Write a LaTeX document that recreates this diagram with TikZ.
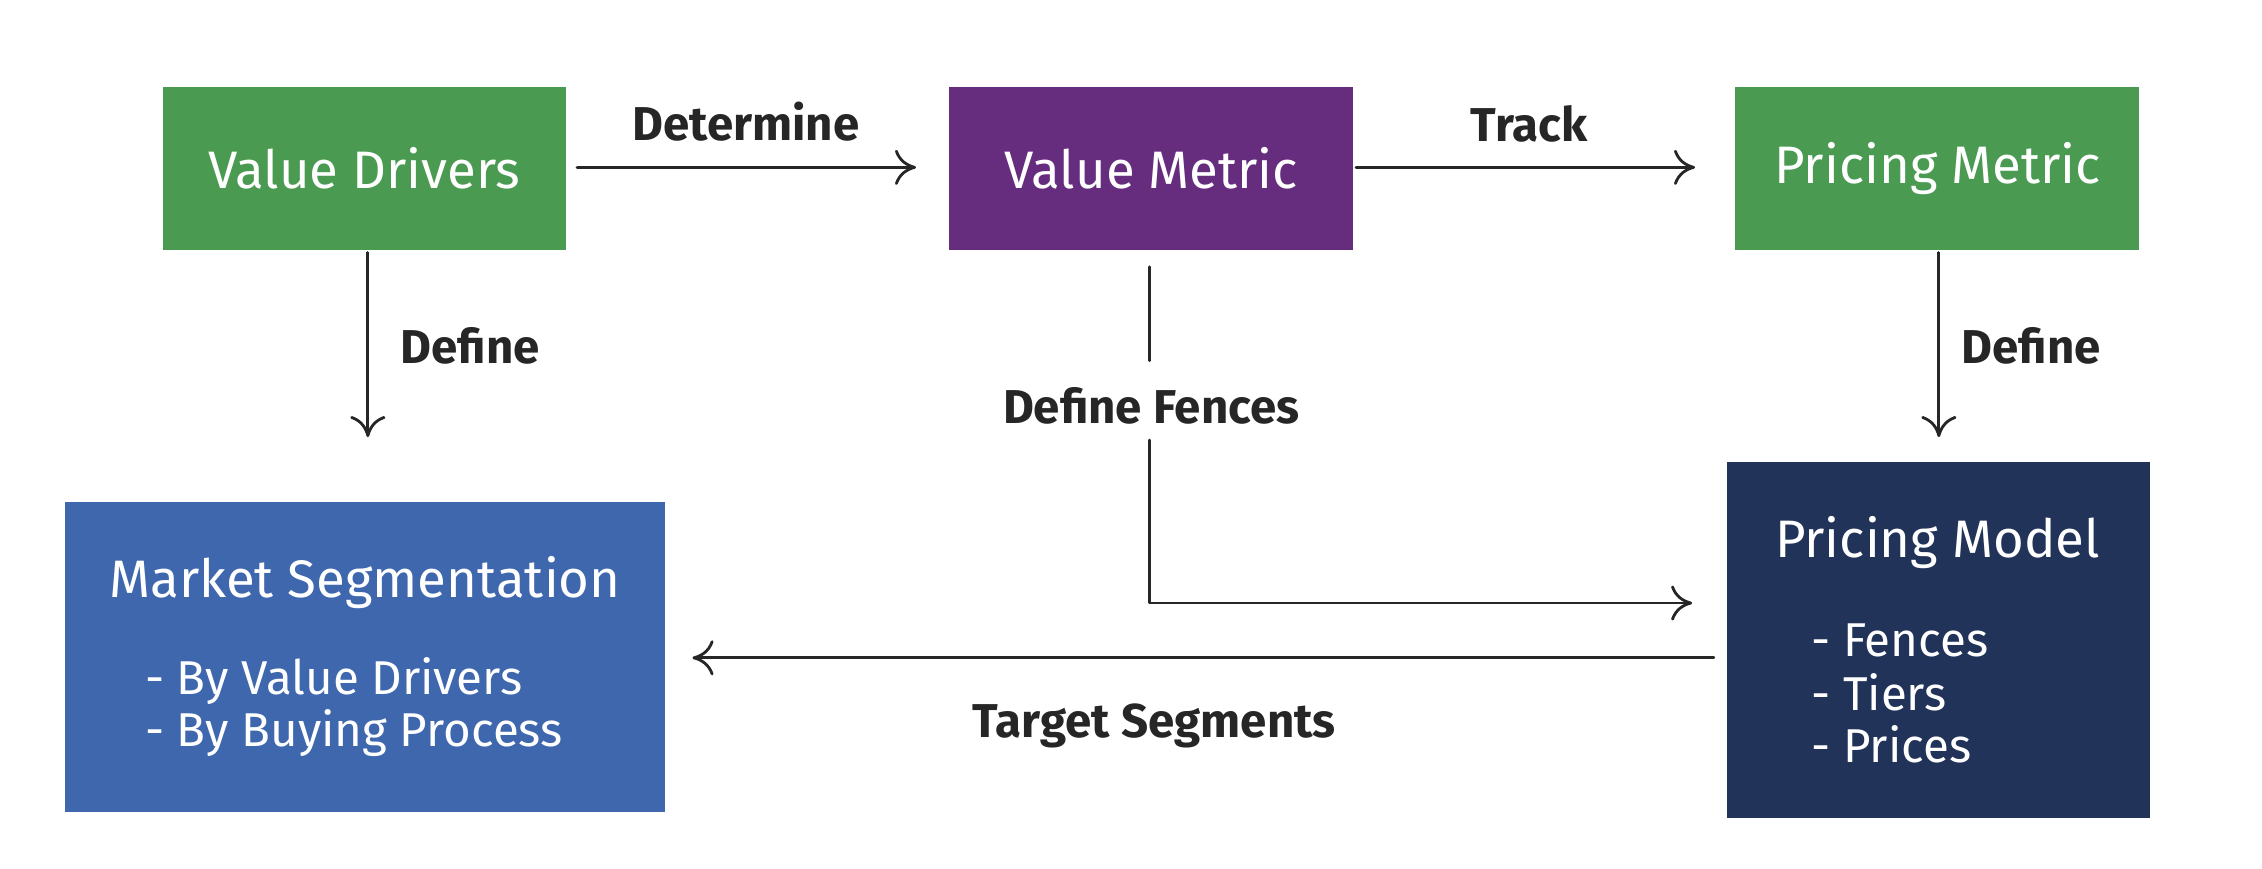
\documentclass[tikz,border=0pt]{standalone}
\usepackage{fontspec}
\setmainfont{Fira Sans}
\usetikzlibrary{arrows.meta}
\definecolor{vgreen}{HTML}{4A9A52}
\definecolor{vpurple}{HTML}{662D7F}
\definecolor{vblue}{HTML}{3F67AE}
\definecolor{vnavy}{HTML}{22335A}
\begin{document}
\begin{tikzpicture}[x=0.014426cm, y=-0.014426cm,
    box/.style={fill=#1, draw=none, text=white, font=\fontsize{15}{18}\selectfont\addfontfeature{LetterSpace=0}},
    lbl/.style={font=\fontsize{13.5}{16}\selectfont\bfseries, text=black!85},
    item/.style={text=white, font=\fontsize{13.5}{16}\selectfont, anchor=west},
    conn/.style={line width=0.8pt, black!85, -{To[length=6pt,width=10pt]}},
    line cap=round, line join=round]
  \useasboundingbox (0,0) rectangle (1568,602);

  % top row
  \fill[vgreen] (113,60) rectangle (392,173);
  \node[box=vgreen] (drivers) at (252.5,116.5) {Value Drivers};
  \fill[vpurple] (658,60) rectangle (938,173);
  \node[box=vpurple] (metric) at (798,116.5) {Value Metric};
  \fill[vgreen] (1203,60) rectangle (1483,173);
  \node[box=vgreen] (pmetric) at (1343,116.5) {Pricing Metric};

  % bottom row
  \fill[vblue] (45,348) rectangle (461,563);
  \node[box=vblue] (segm) at (253,404) {Market Segmentation};
  \node[item] (s1) at (92,472) {- By Value Drivers};
  \node[item] (s2) at (92,508) {- By Buying Process};
  \fill[vnavy] (1197,320) rectangle (1490,567);
  \node[box=vnavy] (pmodel) at (1343,376) {Pricing Model};
  \node[item] (m1) at (1247,444) {- Fences};
  \node[item] (m2) at (1247,480) {- Tiers};
  \node[item] (m3) at (1247,516) {- Prices};

  % connectors
  \coordinate (d1) at (400,116);
  \coordinate (d2) at (635,116);
  \coordinate (t1) at (940,116);
  \coordinate (t2) at (1175,116);
  \coordinate (l1) at (255,175);
  \coordinate (l2) at (255,303);
  \coordinate (r1) at (1344,175);
  \coordinate (r2) at (1344,303);
  \coordinate (f1) at (797,185);
  \coordinate (f2) at (797,250);
  \coordinate (f3) at (797,305);
  \coordinate (f4) at (1173,418);
  \coordinate (g1) at (1188,456);
  \coordinate (g2) at (480,456);
  \draw[conn] (d1) -- (d2);
  \draw[conn] (t1) -- (t2);
  \draw[conn] (l1) -- (l2);
  \draw[conn] (r1) -- (r2);
  \draw[conn, -] (f1) -- (f2);
  \draw[conn] (f3) |- (f4);
  \draw[conn] (g1) -- (g2);

  \node[lbl] (det) at (517,84) {Determine};
  \node[lbl] (trk) at (1060,86) {Track};
  \node[lbl] (defl) at (326,240) {Define};
  \node[lbl] (defr) at (1408,240) {Define};
  \node[lbl] (fen) at (798,281) {Define Fences};
  \node[lbl] (tgt) at (800,503) {Target Segments};
\end{tikzpicture}
\end{document}
